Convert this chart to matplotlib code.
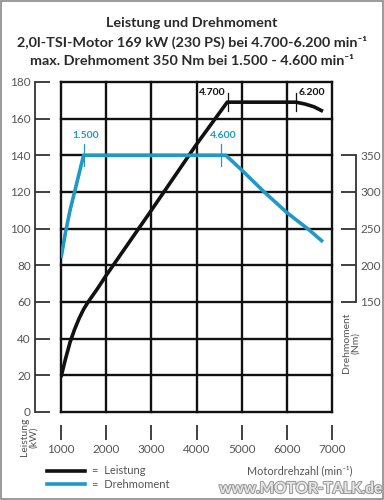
import matplotlib
matplotlib.use("Agg")
import matplotlib.pyplot as plt
import matplotlib.patheffects as pe
from matplotlib.patches import Rectangle

# Leistung (kW) ueber Drehzahl
rpm_power = [1000, 1100, 1200, 1300, 1400, 1500, 1600, 1800, 2000, 3000, 4000, 4680, 5500, 6200, 6400, 6600, 6800]
power_kw = [19, 29, 38, 45, 51, 56, 60, 67, 74.5, 110, 146, 169, 169, 169, 168, 166.5, 164]

# Drehmoment (Nm) ueber Drehzahl
rpm_torque = [1000, 1100, 1200, 1300, 1400, 1500, 2500, 3500, 4650, 5000, 5500, 6000, 6500, 6800]
torque_nm = [210, 245, 275, 300, 325, 350, 350, 350, 350, 330, 300, 272, 248, 232]

x_ticks = [1000, 2000, 3000, 4000, 5000, 6000, 7000]
kw_ticks = [0, 20, 40, 60, 80, 100, 120, 140, 160, 180]
nm_ticks = [150, 200, 250, 300, 350]

power_marks = [4700, 6200]
power_mark_labels = ["4.700", "6.200"]
torque_marks = [1500, 4550]
torque_mark_labels = ["1.500", "4.600"]

BLACK = "#111111"
CYAN = "#1f9ac6"
GREY = "#555555"
FONT = ["Lato", "DejaVu Sans"]

plt.rcParams["font.family"] = FONT

fig = plt.figure(figsize=(3.84, 5.0), dpi=100)
ax = fig.add_axes([61 / 384, 88 / 500, 271 / 384, 330 / 500])
ax.set_xlim(1000, 7000)
ax.set_ylim(0, 180)

# grid / box
for xv in x_ticks:
    ax.axvline(xv, color=BLACK, lw=1.7, clip_on=False, zorder=1)
for yv in kw_ticks:
    ax.axhline(yv, color=BLACK, lw=1.7, clip_on=False, zorder=1)

for s in ["top", "right"]:
    ax.spines[s].set_visible(False)
ax.spines["left"].set_position(("outward", 18.7))
ax.spines["left"].set_bounds(0, 180)
ax.spines["left"].set_linewidth(1.3)
ax.spines["left"].set_color("#333333")
ax.spines["bottom"].set_position(("outward", 20))
ax.spines["bottom"].set_visible(False)

ax.set_xticks(x_ticks)
ax.set_yticks(kw_ticks)
ax.tick_params(axis="y", direction="in", length=11, width=1.3, color="#333333",
               labelsize=8.5, labelcolor=GREY, pad=3)
ax.tick_params(axis="x", direction="in", length=11, width=1.3, color="#333333",
               labelsize=8.5, labelcolor=GREY, pad=3)

# power curve
ax.plot(rpm_power, power_kw, color=BLACK, lw=2.6, solid_capstyle="butt", zorder=4)
for xv in power_marks:
    ax.plot([xv, xv], [164, 174], color=BLACK, lw=0.9, zorder=5)
for xv, lab, ha, dx in zip(power_marks, power_mark_labels, ["right", "left"], [-50, 60]):
    ax.text(xv + dx, 174, lab, ha=ha, va="center", fontsize=7.5, fontweight="bold",
            color=BLACK)

# torque on right axis
ax2 = ax.twinx()
ax2.set_ylim(0, 450)
for s in ["top", "left", "bottom"]:
    ax2.spines[s].set_visible(False)
ax2.spines["right"].set_position(("outward", 17.3))
ax2.spines["right"].set_bounds(150, 350)
ax2.spines["right"].set_linewidth(1.3)
ax2.spines["right"].set_color("#333333")
ax2.set_yticks(nm_ticks)
ax2.tick_params(axis="y", direction="in", length=11, width=1.3, color="#333333",
                labelsize=8.5, labelcolor=GREY, pad=3)
ax2.plot(rpm_torque, torque_nm, color=CYAN, lw=2.6, solid_capstyle="butt", zorder=4)
for xv, lab in zip(torque_marks, torque_mark_labels):
    ax2.plot([xv, xv], [335, 365], color=CYAN, lw=0.9, zorder=5)
    ax2.text(xv + 40, 377, lab, ha="center", va="center", fontsize=7.5, fontweight="bold",
             color=CYAN)

# titles
title_kw = dict(ha="center", va="center", fontsize=10.4, fontweight="bold", color="#2a2a2a")
fig.text(0.5, 1 - 23 / 500, "Leistung und Drehmoment", **title_kw)
fig.text(0.5, 1 - 42 / 500, "2,0l-TSI-Motor 169 kW (230 PS) bei 4.700-6.200 min\u207b\u00b9", **title_kw)
fig.text(0.5, 1 - 61 / 500, "max. Drehmoment 350 Nm bei 1.500 - 4.600 min\u207b\u00b9", **title_kw)

# axis labels
fig.text(29 / 384, 1 - 437 / 500, "Leistung\n(kW)", rotation=90, ha="center", va="center",
         fontsize=7.5, color=GREY, linespacing=1.0)
fig.text(351 / 384, 1 - 343 / 500, "Drehmoment\n(Nm)", rotation=90, ha="center", va="center",
         fontsize=7.5, color=GREY, linespacing=1.0)
fig.text(300 / 384, 1 - 471 / 500, "Motordrehzahl (min\u207b\u00b9)", ha="center", va="center",
         fontsize=7.8, color=GREY)

# legend
fig.lines.append(plt.Line2D([47 / 384, 85 / 384], [1 - 471 / 500] * 2, color=BLACK, lw=2.6,
                            transform=fig.transFigure))
fig.lines.append(plt.Line2D([47 / 384, 85 / 384], [1 - 484 / 500] * 2, color=CYAN, lw=2.6,
                            transform=fig.transFigure))
fig.text(92 / 384, 1 - 471 / 500, "=  Leistung", ha="left", va="center", fontsize=8, color=GREY)
fig.text(92 / 384, 1 - 484 / 500, "=  Drehmoment", ha="left", va="center", fontsize=8, color=GREY)

# watermark
wm = fig.text(382 / 384, 1 - 489 / 500, "www.MOTOR-TALK.de", ha="right", va="center",
              fontsize=11, fontweight="bold", color="#e6e6e6")
wm.set_path_effects([pe.withStroke(linewidth=1.5, foreground="#9a9a9a")])

fig.patches.append(Rectangle((0.002, 0.002), 0.996, 0.996, transform=fig.transFigure,
                             fill=False, edgecolor="#8a8a8a", lw=1.2))

fig.savefig("out.png", dpi=100)
